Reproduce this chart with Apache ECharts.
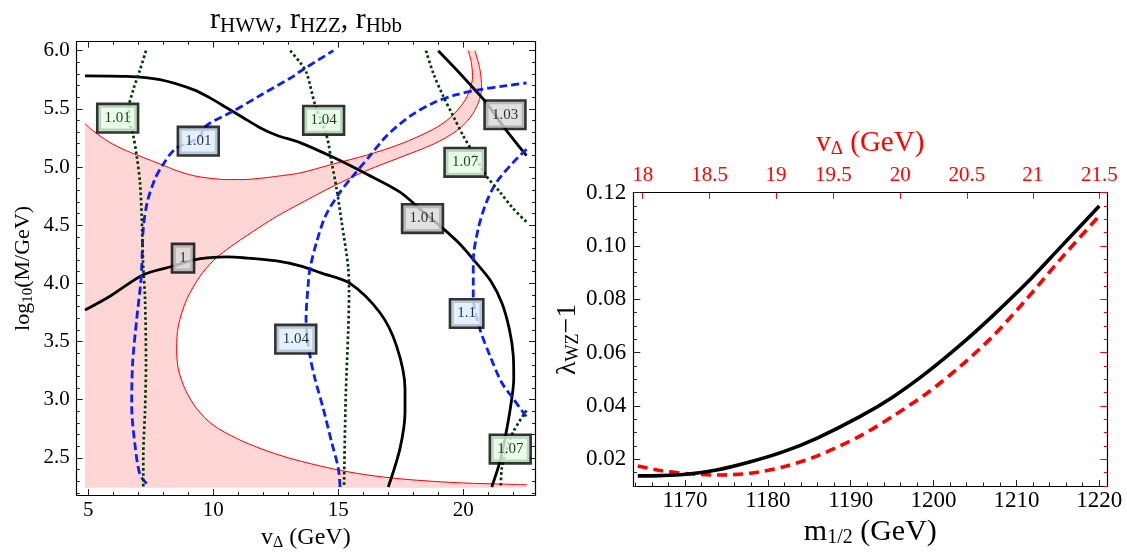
<!DOCTYPE html>
<html><head><meta charset="utf-8">
<script src="https://cdn.jsdelivr.net/npm/echarts@6/dist/echarts.min.js"></script>
<style>html,body{margin:0;padding:0;background:#fff}#c{width:1127px;height:556px}</style>
</head><body><div id="c"></div>
<script>
// ================= LEFT PANEL: contours in (v_Delta [GeV], log10(M/GeV)) =================
const leftXTicks = [5, 10, 15, 20];
const leftYTicks = [2.5, 3.0, 3.5, 4.0, 4.5, 5.0, 5.5, 6.0];
const leftXMinor = [5,6,7,8,9,10,11,12,13,14,15,16,17,18,19,20,21,22];
const leftYMinor = [2.2,2.3,2.4,2.5,2.6,2.7,2.8,2.9,3.0,3.1,3.2,3.3,3.4,3.5,3.6,3.7,3.8,3.9,4.0,4.1,4.2,4.3,4.4,4.5,4.6,4.7,4.8,4.9,5.0,5.1,5.2,5.3,5.4,5.5,5.6,5.7,5.8,5.9,6.0];

// allowed (pink) region boundaries
const regionUpper = [[4.868,5.372],[5.2,5.31],[5.868,5.21],[6.535,5.139],[7.2,5.082],[7.868,5.026],[8.535,4.969],[9.2,4.926],[9.868,4.903],[10.535,4.892],[11.2,4.892],[11.868,4.903],[12.535,4.92],[13.468,4.949],[14.8,5.026],[16.13,5.102],[17.47,5.196],[18.8,5.324],[19.47,5.423],[20.0,5.551],[20.27,5.665],[20.37,5.778],[20.33,5.892],[20.2,6.0]];
const regionLower = [[20.47,6.0],[20.67,5.835],[20.735,5.679],[20.6,5.551],[20.27,5.423],[19.73,5.31],[18.8,5.196],[17.47,5.082],[16.13,4.969],[14.8,4.835],[13.468,4.685],[12.535,4.575],[11.868,4.485],[11.2,4.39],[10.535,4.29],[10.0,4.195],[9.468,4.06],[8.935,3.861],[8.6,3.633],[8.535,3.434],[8.6,3.264],[8.868,3.093],[9.335,2.923],[10.0,2.781],[10.935,2.667],[11.868,2.582],[13.068,2.496],[14.8,2.405],[16.13,2.354],[17.47,2.32],[18.8,2.298],[20.13,2.283],[21.47,2.275],[22.54,2.269]];
const regionCorners = [[4.868,2.243],[22.54,2.243]];

// r contours (black solid)
const black100 = [[4.868,3.77],[5.868,3.889],[7.2,4.074],[8.335,4.145],[9.2,4.2],[9.868,4.221],[10.535,4.227],[11.2,4.22],[12.535,4.193],[13.468,4.15],[14.3,4.09],[15.47,4.0],[16.67,3.747],[17.33,3.463],[17.67,3.093],[17.67,2.894],[17.47,2.582],[17.0,2.25]];
const black101 = [[4.868,5.784],[6.535,5.779],[7.868,5.75],[9.2,5.665],[9.868,5.594],[10.535,5.509],[11.2,5.423],[11.868,5.338],[12.535,5.273],[13.468,5.21],[14.8,5.083],[16.13,4.94],[17.47,4.784],[18.37,4.62],[19.2,4.47],[19.9,4.33],[20.5,4.18],[21.1,4.02],[21.55,3.83],[21.85,3.6],[22.0,3.38],[22.02,3.18],[21.9,2.95],[21.7,2.7],[21.47,2.47],[21.14,2.25]];
const black103 = [[19.0,6.0],[19.73,5.836],[20.4,5.679],[20.87,5.566],[21.67,5.33],[22.53,5.097]];
// blue dashed
const blue101 = [[7.335,2.28],[7.068,2.354],[6.868,2.61],[6.735,2.951],[6.775,3.32],[6.935,3.69],[7.095,4.0],[7.135,4.13],[7.2,4.471],[7.36,4.699],[7.668,4.898],[8.0,5.025],[8.468,5.153],[9.4,5.25],[9.735,5.358],[10.8,5.48],[11.868,5.614],[13.2,5.779],[13.468,5.821],[14.8,6.0]];
const blue104 = [[15.07,2.25],[15.0,2.411],[14.73,2.638],[14.4,2.923],[14.07,3.178],[13.87,3.377],[13.71,3.69],[13.8,4.0],[13.87,4.13],[14.135,4.357],[14.5,4.585],[15.07,4.784],[15.6,4.926],[16.27,5.097],[16.93,5.267],[17.87,5.437],[18.8,5.551],[19.73,5.622],[20.67,5.665],[21.73,5.699],[22.53,5.722]];
const blue110 = [[22.53,5.153],[22.0,5.04],[21.33,4.869],[20.93,4.699],[20.6,4.471],[20.4,4.187],[20.4,3.889],[20.67,3.605],[21.07,3.377],[21.53,3.15],[22.0,3.008],[22.53,2.852]];
// green dotted
const green101 = [[7.308,6.0],[7.068,5.835],[6.801,5.665],[6.62,5.5],[6.65,5.38],[6.775,5.296],[6.935,5.097],[7.068,4.869],[7.135,4.585],[7.2,4.13],[7.268,3.889],[7.308,3.32],[7.268,2.894],[7.2,2.525],[7.2,2.25]];
const green104 = [[13.08,6.0],[13.468,5.9],[13.735,5.807],[14.07,5.537],[14.535,5.267],[14.735,5.04],[14.935,4.812],[15.135,4.528],[15.4,4.13],[15.43,3.9],[15.4,3.605],[15.3,3.036],[15.23,2.25]];
const green107a = [[18.508,6.0],[18.8,5.807],[19.2,5.608],[19.6,5.437],[20.0,5.267],[20.27,5.168],[20.9,4.93],[21.47,4.784],[22.0,4.642],[22.53,4.528]];
const green107b = [[22.53,2.908],[22.0,2.724],[21.7,2.55],[21.54,2.41],[21.5,2.25]];
// contour labels [x, y, text]
const labelsGray  = [[8.79,4.216,'1'],[18.37,4.557,'1.01'],[21.67,5.449,'1.03']];
const labelsGreen = [[6.175,5.42,'1.01'],[14.415,5.401,'1.04'],[20.07,5.04,'1.07'],[21.88,2.576,'1.07']];
const labelsBlue  = [[9.4,5.222,'1.01'],[13.3,3.52,'1.04'],[20.135,3.741,'1.1']];

// ================= RIGHT PANEL: lambda_WZ - 1 vs m_1/2 =================
const rightXTicks = [1170, 1180, 1190, 1200, 1210, 1220];
const rightXMinor = [1164,1166,1168,1170,1172,1174,1176,1178,1180,1182,1184,1186,1188,1190,1192,1194,1196,1198,1200,1202,1204,1206,1208,1210,1212,1214,1216,1218,1220];
const rightYTicks = [0.02, 0.04, 0.06, 0.08, 0.10, 0.12];
const rightYMinor = [0.01,0.015,0.02,0.025,0.03,0.035,0.04,0.045,0.05,0.055,0.06,0.065,0.07,0.075,0.08,0.085,0.09,0.095,0.1,0.105,0.11,0.115,0.12];
const topAxisPos    = [1164.9, 1172.96, 1180.97, 1187.92, 1195.97, 1204.02, 1211.98, 1220.0];
const topAxisLabels = ['18', '18.5', '19', '19.5', '20', '20.5', '21', '21.5'];

const mSolid      = [1164.3, 1167.0, 1169.8, 1173.8, 1177.9, 1181.9, 1185.9, 1191.1, 1195.1, 1199.2, 1203.2, 1207.2, 1211.2, 1215.3, 1220.0];
const lambdaSolid = [0.0138, 0.0139, 0.0143, 0.0160, 0.0191, 0.0229, 0.0279, 0.0360, 0.0434, 0.0526, 0.0628, 0.0740, 0.0860, 0.0995, 0.1150];
const mDashed      = [1164.3, 1167.0, 1170.0, 1173.8, 1177.9, 1181.9, 1185.9, 1191.1, 1195.1, 1199.2, 1203.2, 1207.2, 1211.2, 1215.3, 1219.9];
const lambdaDashed = [0.0175, 0.0158, 0.0147, 0.0141, 0.0148, 0.0172, 0.0212, 0.0287, 0.0362, 0.0448, 0.0548, 0.0663, 0.0800, 0.0950, 0.1110];

// ================= chart =================
const F = 'Liberation Serif';
const regionPolygon = [regionCorners[0]].concat(regionUpper, regionLower, [regionCorners[1]]);

function tickAxis(grid, pos, min, max, ticks, len, tickColor, showLine, extra) {
  return Object.assign({
    type: 'value', gridIndex: grid, position: pos, min: min, max: max,
    axisLine: {show: showLine, onZero: false, lineStyle: {color: '#000', width: 1.2}},
    axisTick: {show: true, inside: true, length: len, customValues: ticks, lineStyle: {color: tickColor, width: 1}},
    axisLabel: {show: false},
    splitLine: {show: false}
  }, extra || {});
}
function sub(col, big, small, pad) {
  return {
    t: {fontFamily: F, fontSize: big, color: col},
    s: {fontFamily: F, fontSize: small, color: col, padding: [pad, 0, 0, 0]}
  };
}
const lab = (size, margin, col) => ({show: true, fontFamily: F, fontSize: size, color: col || '#000', margin: margin});

const X0 = [4.536, 22.87], Y0 = [2.18, 6.077];
const X1 = [1163.76, 1220.97], Y1 = [0.01, 0.12];

const xAxis = [
  tickAxis(0, 'bottom', X0[0], X0[1], leftXTicks, 6, '#222', true, {
    axisLabel: Object.assign(lab(21, 5), {customValues: leftXTicks, formatter: v => String(v)}),
    name: '{t|v}{s|Δ}{t| (GeV)}', nameLocation: 'middle', nameGap: 25,
    nameTextStyle: {rich: sub('#000', 24, 16, 10)}
  }),
  tickAxis(0, 'top', X0[0], X0[1], leftXTicks, 6, '#222', true),
  tickAxis(0, 'bottom', X0[0], X0[1], leftXMinor, 3, '#222', false),
  tickAxis(0, 'top', X0[0], X0[1], leftXMinor, 3, '#222', false),
  tickAxis(1, 'bottom', X1[0], X1[1], rightXTicks, 6, '#222', true, {
    axisLabel: Object.assign(lab(23, 3), {customValues: rightXTicks, formatter: v => String(Math.round(v))}),
    name: '{t|m}{s|1/2}{t| (GeV)}', nameLocation: 'middle', nameGap: 30,
    nameTextStyle: {rich: sub('#000', 30, 20, 12)}
  }),
  tickAxis(1, 'top', X1[0], X1[1], topAxisPos, 6, '#ff0000', true, {
    axisLabel: Object.assign(lab(21, 7, '#ff0000'), {
      customValues: topAxisPos,
      formatter: function (v) {
        let best = 0;
        topAxisPos.forEach((p, i) => { if (Math.abs(p - v) < Math.abs(topAxisPos[best] - v)) best = i; });
        return topAxisLabels[best];
      }
    }),
    name: '{t|v}{s|Δ}{t| (GeV)}', nameLocation: 'middle', nameGap: 34,
    nameTextStyle: {rich: sub('#ff0000', 29, 19, 12)}
  }),
  tickAxis(1, 'bottom', X1[0], X1[1], rightXMinor, 3.5, '#222', false)
];
const yAxis = [
  tickAxis(0, 'left', Y0[0], Y0[1], leftYTicks, 6, '#222', true, {
    axisLabel: Object.assign(lab(21, 7), {customValues: leftYTicks, formatter: v => v.toFixed(1)}),
    name: '{t|log}{s|10}{t|(M/GeV)}', nameLocation: 'middle', nameGap: 41, nameRotate: 90,
    nameTextStyle: {rich: sub('#000', 22, 15, 9)}
  }),
  tickAxis(0, 'right', Y0[0], Y0[1], leftYTicks, 6, '#222', true),
  tickAxis(0, 'left', Y0[0], Y0[1], leftYMinor, 3, '#222', false),
  tickAxis(0, 'right', Y0[0], Y0[1], leftYMinor, 3, '#222', false),
  tickAxis(1, 'left', Y1[0], Y1[1], rightYTicks, 7, '#222', true, {
    axisLabel: Object.assign(lab(23, 7), {customValues: rightYTicks, formatter: v => v.toFixed(2)}),
    name: '{t|λ}{s|WZ}{t|−1}', nameLocation: 'middle', nameGap: 49, nameRotate: 90,
    nameTextStyle: {rich: sub('#000', 28, 18, 12)}
  }),
  tickAxis(1, 'right', Y1[0], Y1[1], rightYTicks, 7, '#ff0000', true),
  tickAxis(1, 'left', Y1[0], Y1[1], rightYMinor, 3.5, '#222', false),
  tickAxis(1, 'right', Y1[0], Y1[1], rightYMinor, 3.5, '#ff0000', false)
];

function contour(data, color, type, width, z) {
  return {type: 'line', xAxisIndex: 0, yAxisIndex: 0, data: data, showSymbol: false, smooth: 0.3,
          lineStyle: {color: color, width: width, type: type, cap: 'butt'}, z: z, silent: true};
}
function labels(arr, bg) {
  return {type: 'scatter', xAxisIndex: 0, yAxisIndex: 0, symbolSize: 1, z: 20, silent: true,
    itemStyle: {color: 'rgba(0,0,0,0)'},
    data: arr.map(d => ({value: [d[0], d[1]], name: d[2]})),
    label: {show: true, position: 'inside', formatter: '{b}', fontFamily: F, fontSize: 15, color: '#000',
            backgroundColor: bg, borderColor: '#000', borderWidth: 2.6, padding: [6, 6, 5, 6]}};
}
const GREEN = '#003a00', BLUE = '#0a1eff';
const series = [
  {type: 'custom', xAxisIndex: 0, yAxisIndex: 0, data: [[10, 3]], z: 1, silent: true,
   renderItem: function (params, api) {
     return {type: 'polygon', shape: {points: regionPolygon.map(p => api.coord(p))},
             style: {fill: '#ffd6d6'}};
   }},
  contour(regionUpper, '#ff0000', 'solid', 1, 3),
  contour(regionLower, '#ff0000', 'solid', 1, 3),
  contour(black100, '#000', 'solid', 2.8, 5),
  contour(black101, '#000', 'solid', 2.8, 5),
  contour(black103, '#000', 'solid', 2.8, 5),
  contour(blue101, BLUE, [8, 4], 2.8, 6),
  contour(blue104, BLUE, [8, 4], 2.8, 6),
  contour(blue110, BLUE, [8, 4], 2.8, 6),
  contour(green101, GREEN, [2.6, 2.6], 2.7, 7),
  contour(green104, GREEN, [2.6, 2.6], 2.7, 7),
  contour(green107a, GREEN, [2.6, 2.6], 2.7, 7),
  contour(green107b, GREEN, [2.6, 2.6], 2.7, 7),
  labels(labelsGray, '#d9d9d9'),
  labels(labelsGreen, '#e0ffe0'),
  labels(labelsBlue, '#dcecfc'),
  {type: 'line', xAxisIndex: 4, yAxisIndex: 4, showSymbol: false, smooth: 0.3, z: 5,
   data: mDashed.map((m, i) => [m, lambdaDashed[i]]),
   lineStyle: {color: '#ff0000', width: 3.6, type: [10, 6]}},
  {type: 'line', xAxisIndex: 4, yAxisIndex: 4, showSymbol: false, smooth: 0.3, z: 6,
   data: mSolid.map((m, i) => [m, lambdaSolid[i]]),
   lineStyle: {color: '#000', width: 3.6}}
];

const chart = echarts.init(document.getElementById('c'), null, {renderer: 'canvas'});
chart.setOption({
  animation: false,
  backgroundColor: '#fff',
  grid: [
    {left: 76.7, top: 41.7, width: 458.3, height: 457.6},
    {left: 633.3, top: 192.7, width: 474, height: 293.3}
  ],
  graphic: [{
    type: 'text', x: 306, y: 20, silent: true,
    style: {text: '{t|r}{s|HWW}{t|, r}{s|HZZ}{t|, r}{s|Hbb}', align: 'center', verticalAlign: 'middle',
            rich: sub('#000', 30, 21, 12)}
  }],
  xAxis: xAxis,
  yAxis: yAxis,
  series: series
});
</script></body></html>
